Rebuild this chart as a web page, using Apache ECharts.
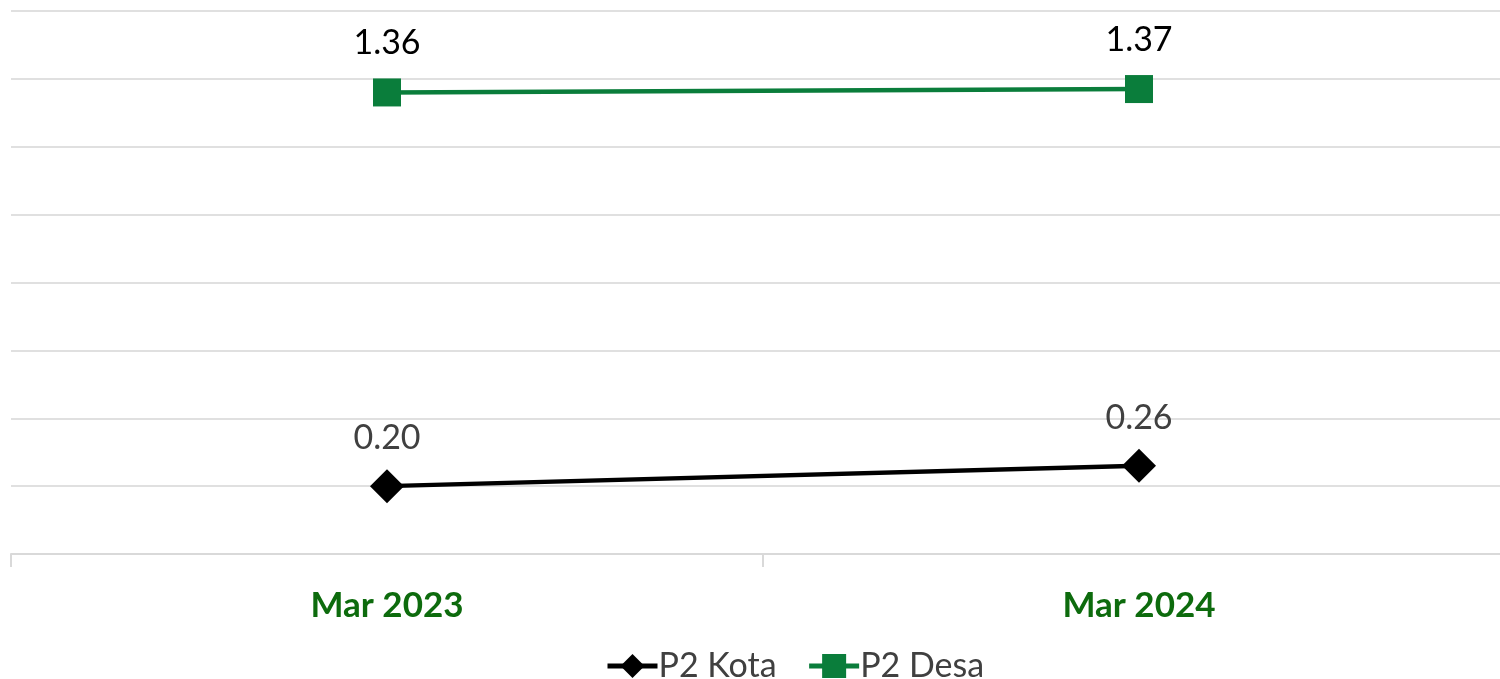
<!DOCTYPE html>
<html>
<head>
<meta charset="utf-8">
<title>P2 Kota vs P2 Desa</title>
<script src="https://cdn.jsdelivr.net/npm/echarts@6/dist/echarts.min.js"></script>
<style>
  html, body { margin: 0; padding: 0; background: #fff; }
</style>
</head>
<body>
<div id="main" style="width:1500px;height:679px;"></div>
<script type="text/javascript">
var categories = ['Mar 2023', 'Mar 2024'];
var kota = [0.20, 0.26];
var desa = [1.36, 1.37];

var chart = echarts.init(document.getElementById('main'));
var option = {
    animation: false,
    grid: { left: 11, top: 11, right: -15, height: 543, outerBoundsMode: 'none' },
    legend: {
        top: 644,
        left: 600,
        itemWidth: 50,
        itemHeight: 30,
        itemGap: 30,
        lineStyle: { width: 5 },
        textStyle: { fontFamily: 'Lato', fontSize: 34, color: '#404040', padding: [0, 0, 0, -4] },
        data: ['P2 Kota', 'P2 Desa']
    },
    xAxis: {
        type: 'category',
        data: categories,
        boundaryGap: true,
        axisLine: { lineStyle: { color: '#d9d9d9', width: 2 } },
        axisTick: { show: true, length: 13, lineStyle: { color: '#d9d9d9', width: 2 } },
        axisLabel: { color: '#0d6b0d', fontFamily: 'Lato', fontWeight: 'bold', fontSize: 35, margin: 34 }
    },
    yAxis: {
        type: 'value',
        min: 0,
        max: 1.6,
        interval: 0.2,
        axisLabel: { show: false },
        axisLine: { show: false },
        axisTick: { show: false },
        splitLine: { lineStyle: { color: '#e0e0e0', width: 2 } }
    },
    series: [
        {
            name: 'P2 Kota',
            type: 'line',
            data: kota,
            symbol: 'diamond',
            symbolSize: 34,
            itemStyle: { color: '#000000' },
            lineStyle: { color: '#000000', width: 4.5 },
            label: {
                show: true, position: 'top', distance: 14,
                formatter: function (p) { return p.value.toFixed(2); },
                fontFamily: 'Lato', fontSize: 34, color: '#404040'
            }
        },
        {
            name: 'P2 Desa',
            type: 'line',
            data: desa,
            symbol: 'rect',
            symbolSize: 28,
            itemStyle: { color: '#0a7d3b' },
            lineStyle: { color: '#0a7d3b', width: 4.5 },
            label: {
                show: true, position: 'top', distance: 18,
                formatter: function (p) { return p.value.toFixed(2); },
                fontFamily: 'Lato', fontSize: 34, color: '#000000'
            }
        }
    ]
};
chart.setOption(option);
</script>
</body>
</html>
